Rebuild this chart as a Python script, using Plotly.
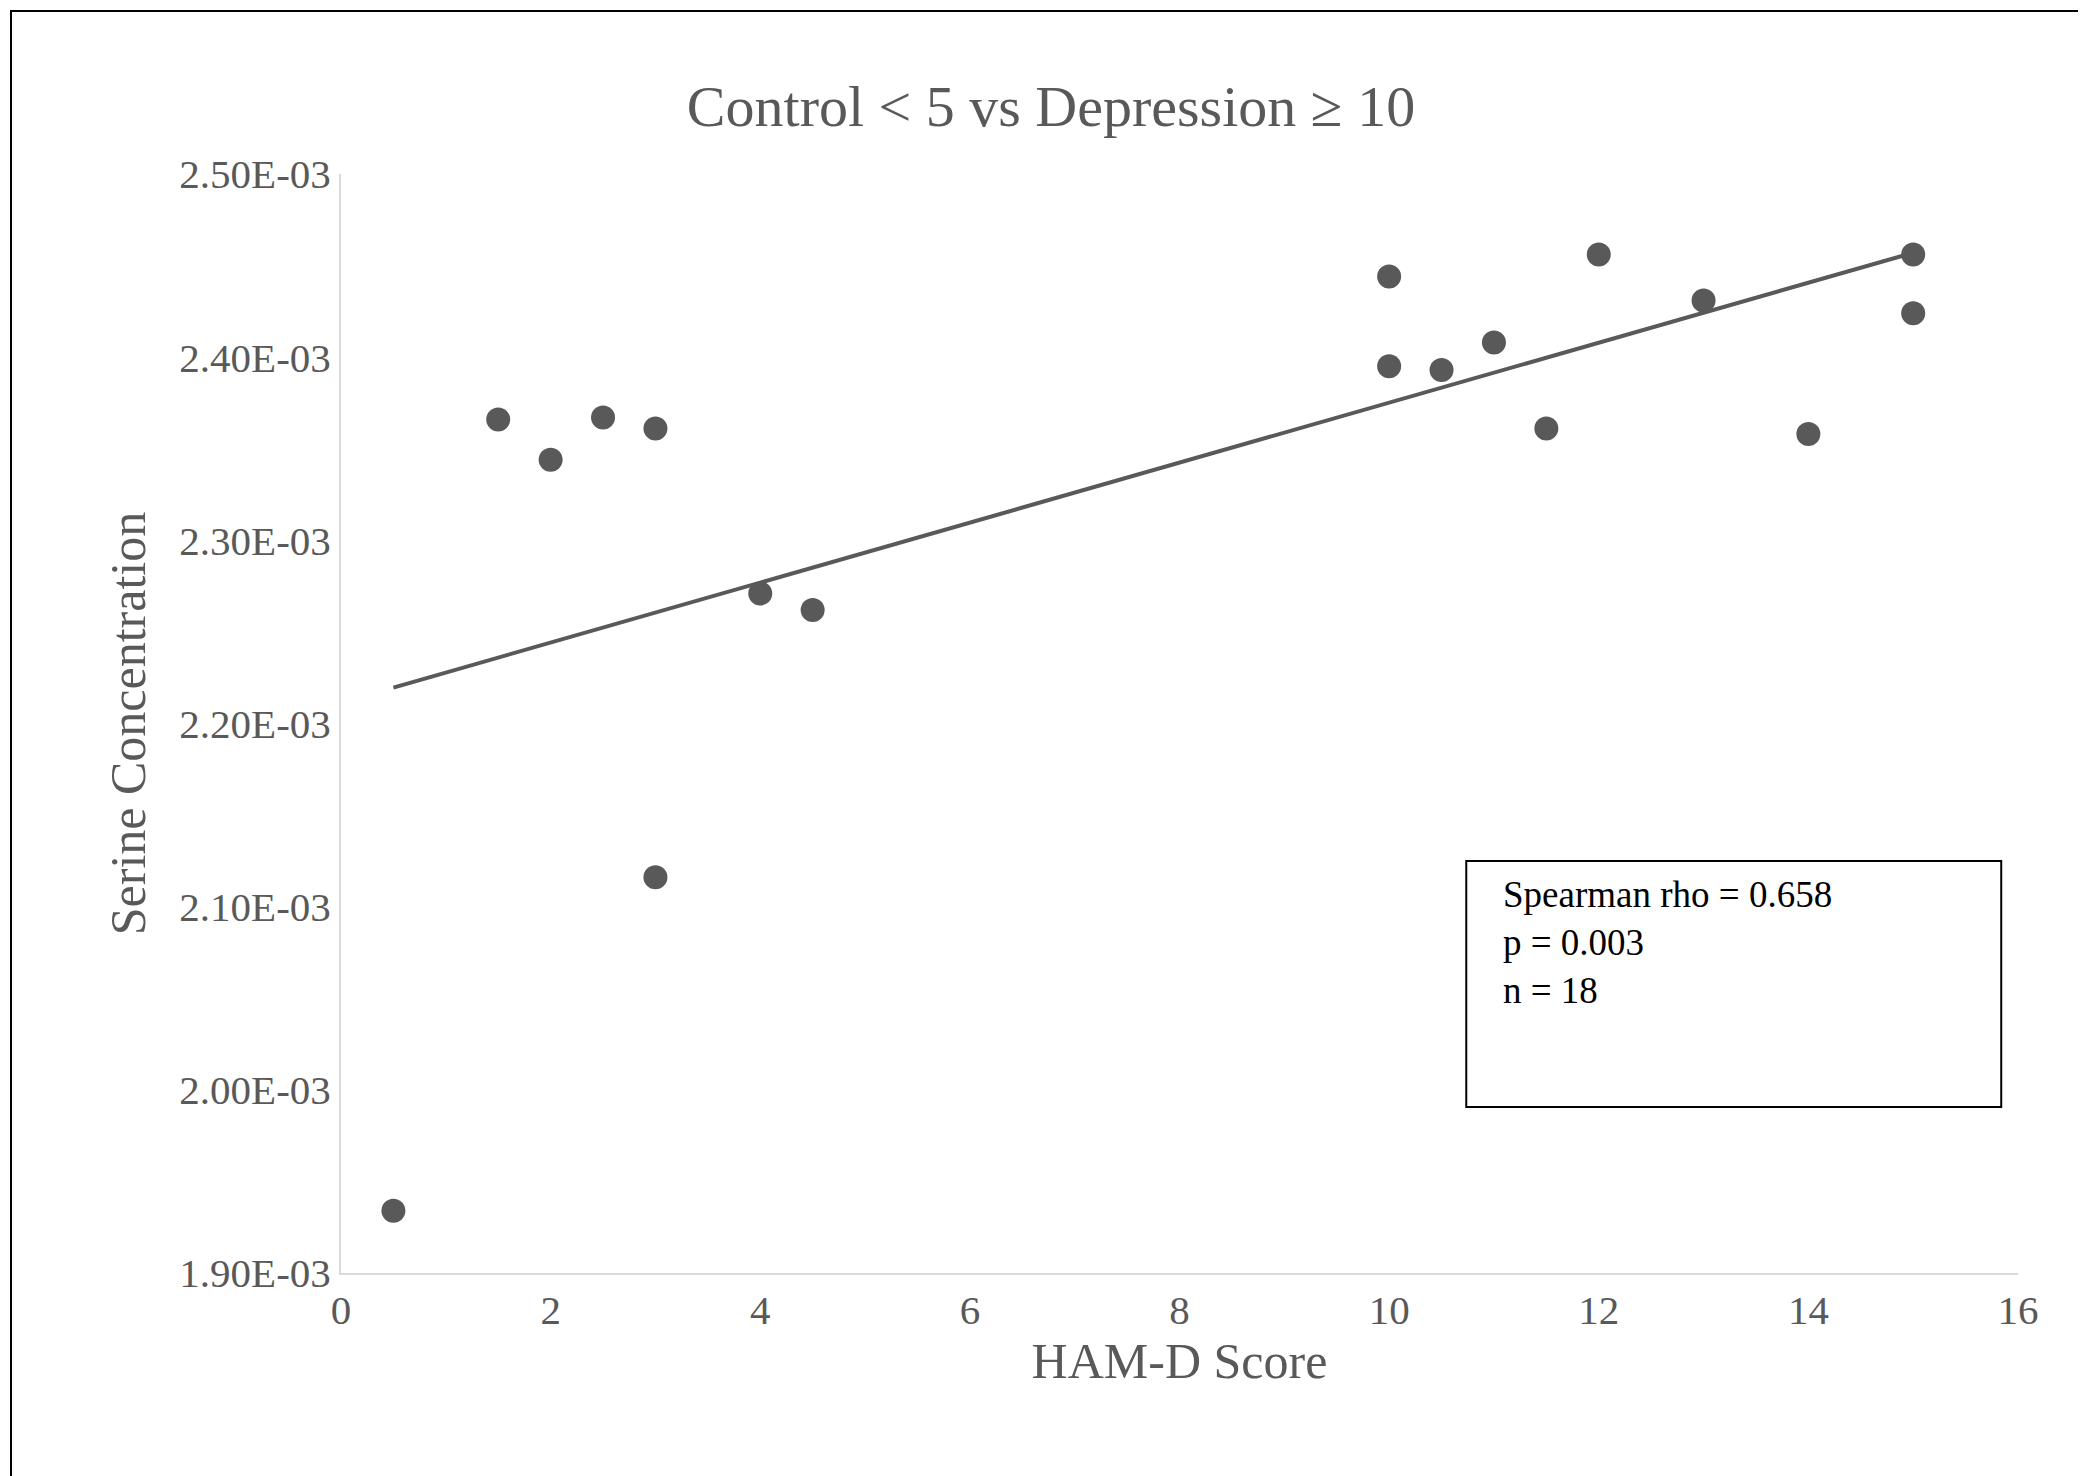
import numpy as np
import plotly.graph_objects as go

ham_d = [0.5, 1.5, 2, 2.5, 3, 3, 4, 4.5, 10, 10, 10.5, 11, 11.5, 12, 13, 14, 15, 15]
serine = [1.934e-3, 2.366e-3, 2.344e-3, 2.367e-3, 2.361e-3, 2.116e-3, 2.271e-3, 2.262e-3,
          2.444e-3, 2.395e-3, 2.393e-3, 2.408e-3, 2.361e-3, 2.456e-3, 2.431e-3, 2.358e-3,
          2.456e-3, 2.424e-3]
ytick_vals = [1.9e-3, 2.0e-3, 2.1e-3, 2.2e-3, 2.3e-3, 2.4e-3, 2.5e-3]
ytick_text = ["1.90E-03", "2.00E-03", "2.10E-03", "2.20E-03", "2.30E-03", "2.40E-03", "2.50E-03"]
stats_text = "Spearman rho = 0.658<br>p = 0.003<br>n = 18"

W, H = 2086, 1476
L, R, T, B = 333, 76, 166, 211
pw, ph = W - L - R, H - T - B

slope, icpt = np.polyfit(ham_d, serine, 1)
fx = [min(ham_d), max(ham_d)]
fy = [slope * v + icpt for v in fx]

grey = "#595959"
fig = go.Figure()
fig.add_trace(go.Scatter(x=fx, y=fy, mode="lines", line=dict(color=grey, width=4), showlegend=False))
fig.add_trace(go.Scatter(x=ham_d, y=serine, mode="markers",
                         marker=dict(color=grey, size=24), showlegend=False))

font = "Liberation Serif"
fig.update_layout(
    width=W, height=H, margin=dict(l=L, r=R, t=T, b=B),
    plot_bgcolor="white", paper_bgcolor="white",
    font=dict(family=font, color=grey),
    title=dict(text="Control < 5 vs Depression ≥ 10", x=0.5, xref="container", y=1 - 98 / H,
               yanchor="middle", font=dict(size=58, color=grey, family=font)),
)
fig.update_xaxes(range=[0, 16], dtick=2, showgrid=False, zeroline=False,
                 showline=True, linecolor="#d9d9d9", linewidth=2,
                 tickfont=dict(size=41), ticks="",
                 title=dict(text="HAM-D Score", font=dict(size=50), standoff=2))
fig.update_yaxes(range=[1.9e-3, 2.5e-3], tickvals=ytick_vals, ticktext=ytick_text,
                 showgrid=False, zeroline=False, showline=True, linecolor="#d9d9d9",
                 linewidth=2, tickfont=dict(size=41), ticks="",
                 title=dict(text="Serine Concentration", font=dict(size=50), standoff=18))

# stats box
fig.add_shape(type="rect", xref="paper", yref="paper", x0=0.671, x1=0.990, y0=0.151, y1=0.375,
              line=dict(color="black", width=2), fillcolor="white", layer="below")
fig.add_annotation(xref="paper", yref="paper", x=0.692, y=0.365, xanchor="left", yanchor="top",
                   text=stats_text, showarrow=False, align="left",
                   font=dict(size=37, color="black", family=font))
# outer border
fig.add_shape(type="rect", xref="paper", yref="paper",
              x0=(3 - L) / pw, x1=(W - 6 - L) / pw,
              y0=-(H - 6 - T - ph) / ph, y1=1 + (T - 3) / ph,
              line=dict(color="black", width=2))

fig.write_html("out.html")
